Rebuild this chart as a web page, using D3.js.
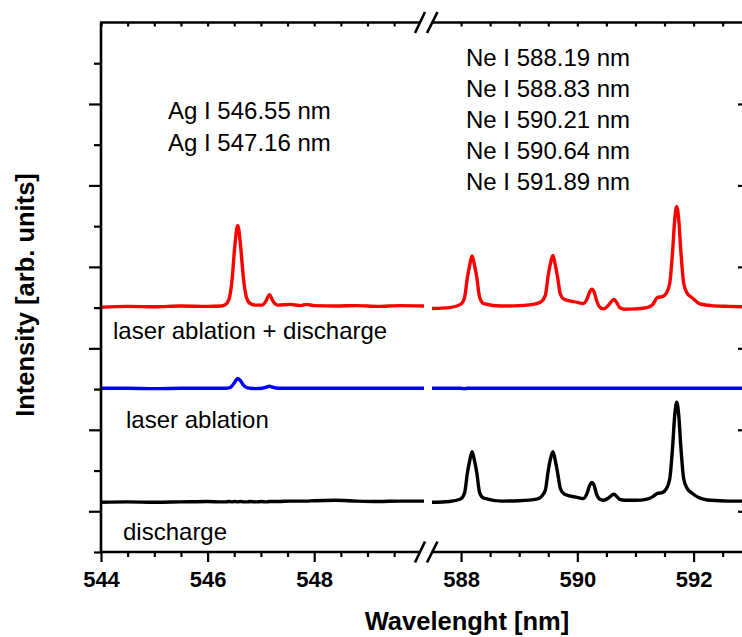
<!DOCTYPE html>
<html>
<head>
<meta charset="utf-8">
<script src="https://cdn.jsdelivr.net/npm/d3@7"></script>
<style>
  body { margin: 0; background: #fff; }
  svg { display: block; font-family: 'Liberation Sans', Arial, sans-serif; }
</style>
</head>
<body>
<div id="chart"></div>
<script>
// wavelength grids (nm) of the two panels
let leftNm = [544, 544.5, 545, 545.5, 546, 546.25, 546.33, 546.4, 546.46, 546.51, 546.565, 546.62, 546.67, 546.73, 546.8,
  546.9, 547.02, 547.09, 547.16, 547.23, 547.32, 547.55, 547.75, 547.85, 548.0, 548.4, 548.8, 549.2, 549.6, 550.06]
let rightNm = [587.5, 587.8, 587.99, 588.06, 588.11, 588.15, 588.19, 588.23, 588.27, 588.32, 588.39, 588.7,
  589.0, 589.3, 589.38, 589.45, 589.5, 589.54, 589.58, 589.62, 589.66, 589.71, 589.78,
  590.0, 590.1, 590.17, 590.21, 590.25, 590.29, 590.33, 590.38, 590.45, 590.53, 590.58, 590.63, 590.68, 590.73, 590.82,
  591.0, 591.2, 591.3, 591.38, 591.46, 591.53, 591.59, 591.64, 591.675, 591.71, 591.745, 591.78, 591.83, 591.89, 591.97,
  592.1, 592.3, 592.6, 592.85]

// intensities (arb. units, offset spectra)
let redLeft = [6.01, 6.03, 6.02, 6.04, 6.03, 6.04, 6.07, 6.2, 6.7, 7.5, 8.02, 7.5, 6.75, 6.25, 6.1,
  6.06, 6.06, 6.15, 6.32, 6.15, 6.06, 6.08, 6.05, 6.08, 6.05, 6.04, 6.05, 6.03, 6.05, 6.04]
let blueLeft = [4.02, 4.02, 4.01, 4.02, 4.02, 4.02, 4.02, 4.03, 4.08, 4.17, 4.26, 4.2, 4.1, 4.04, 4.02,
  4.01, 4.02, 4.04, 4.07, 4.04, 4.02, 4.02, 4.02, 4.02, 4.02, 4.02, 4.02, 4.02, 4.02, 4.02]
let blackLeft = [1.22, 1.23, 1.22, 1.23, 1.24, 1.23, 1.23, 1.24, 1.23, 1.24, 1.23, 1.24, 1.23, 1.23, 1.24,
  1.23, 1.24, 1.23, 1.24, 1.24, 1.24, 1.25, 1.25, 1.25, 1.26, 1.27, 1.25, 1.24, 1.25, 1.25]

let redRight = [5.98, 6.0, 6.08, 6.25, 6.75, 7.05, 7.27, 7.05, 6.75, 6.25, 6.1, 6.04,
  6.05, 6.1, 6.15, 6.3, 6.8, 7.1, 7.28, 7.05, 6.75, 6.32, 6.2,
  6.13, 6.1, 6.22, 6.38, 6.45, 6.38, 6.18, 6.02, 5.97, 6.05, 6.14, 6.2, 6.12, 6.0, 5.96,
  5.97, 6.0, 6.08, 6.25, 6.27, 6.35, 6.6, 7.4, 8.15, 8.48, 8.15, 7.4, 6.6, 6.35, 6.25,
  6.1, 6.05, 6.03, 6.02]
let blueRight = [4.02, 4.02, 4.02, 4.01, 4.02, 4.02, 4.02, 4.02, 4.02, 4.02, 4.02, 4.02,
  4.02, 4.02, 4.02, 4.02, 4.02, 4.02, 4.02, 4.02, 4.02, 4.02, 4.02,
  4.02, 4.02, 4.02, 4.02, 4.02, 4.02, 4.02, 4.02, 4.02, 4.02, 4.02, 4.02, 4.02, 4.02, 4.02,
  4.02, 4.02, 4.02, 4.02, 4.02, 4.02, 4.02, 4.02, 4.02, 4.02, 4.02, 4.02, 4.02, 4.02, 4.02,
  4.02, 4.02, 4.02, 4.02]
let blackRight = [1.22, 1.24, 1.3, 1.45, 1.95, 2.25, 2.46, 2.25, 1.95, 1.45, 1.32, 1.25,
  1.26, 1.3, 1.36, 1.52, 2.0, 2.3, 2.46, 2.25, 1.95, 1.55, 1.42,
  1.34, 1.31, 1.45, 1.63, 1.71, 1.63, 1.42, 1.3, 1.27, 1.32, 1.38, 1.42, 1.36, 1.29, 1.27,
  1.27, 1.3, 1.36, 1.44, 1.46, 1.55, 1.8, 2.6, 3.35, 3.68, 3.35, 2.6, 1.8, 1.56, 1.45,
  1.33, 1.27, 1.25, 1.25]

// tick labels and annotations
let leftMajor = [544, 546, 548]
let rightMajor = [588, 590, 592]
let agLines = ['Ag I 546.55 nm', 'Ag I 547.16 nm']
let neLines = ['Ne I 588.19 nm', 'Ne I 588.83 nm', 'Ne I 590.21 nm', 'Ne I 590.64 nm', 'Ne I 591.89 nm']
let seriesNames = ['laser ablation + discharge', 'laser ablation', 'discharge']

let width = 742
let height = 637
let yTop = 22.5
let yBottom = 552
let xL = d3.scaleLinear().domain([544, 550.06]).range([101, 424])
let xR = d3.scaleLinear().domain([587.5, 592.85]).range([432, 743])
let y = d3.scaleLinear().domain([0, 13]).range([yBottom, yTop])

let svg = d3.select('#chart')
  .append('svg')
  .attr('width', width)
  .attr('height', height)

// spectra
function drawLine (x, nm, vals, color) {
  let line = d3.line()
    .x(function (d, i) { return x(nm[i]) })
    .y(function (d) { return y(d) })
    .curve(d3.curveMonotoneX)
  svg.append('path')
    .datum(vals)
    .attr('d', line)
    .attr('fill', 'none')
    .attr('stroke', color)
    .attr('stroke-width', 3.4)
    .attr('stroke-linejoin', 'round')
}
drawLine(xL, leftNm, redLeft, '#ff0000')
drawLine(xR, rightNm, redRight, '#ff0000')
drawLine(xL, leftNm, blueLeft, '#0000ff')
drawLine(xR, rightNm, blueRight, '#0000ff')
drawLine(xL, leftNm, blackLeft, '#000')
drawLine(xR, rightNm, blackRight, '#000')

// minor ticks every 0.5 nm
let minorL = d3.range(544.5, 550, 0.5).filter(function (v) { return leftMajor.indexOf(v) < 0 })
let minorR = d3.range(588.5, 593, 0.5).filter(function (v) { return rightMajor.indexOf(v) < 0 })

function tickAxis (axis, gy) {
  let g = svg.append('g')
    .attr('transform', 'translate(0,' + gy + ')')
    .call(axis)
  g.select('.domain').remove()
  g.selectAll('line').attr('stroke', '#000').attr('stroke-width', 2.2)
  return g
}
// bottom
tickAxis(d3.axisBottom(xL).tickValues(leftMajor).tickSize(10).tickPadding(9).tickFormat(d3.format('d')), yBottom)
tickAxis(d3.axisBottom(xR).tickValues(rightMajor).tickSize(10).tickPadding(9).tickFormat(d3.format('d')), yBottom)
tickAxis(d3.axisBottom(xL).tickValues(minorL).tickSize(5).tickFormat(''), yBottom)
tickAxis(d3.axisBottom(xR).tickValues(minorR).tickSize(5).tickFormat(''), yBottom)
svg.selectAll('.tick text')
  .attr('font-size', '22px')
  .attr('font-weight', 'bold')
  .attr('font-family', "'Liberation Sans', Arial, sans-serif")
  .attr('fill', '#000')
// top, inward
tickAxis(d3.axisTop(xL).tickValues(leftMajor.concat(minorL)).tickSize(-4).tickFormat(''), yTop)
tickAxis(d3.axisTop(xR).tickValues(rightMajor.concat(minorR)).tickSize(-4).tickFormat(''), yTop)

// left axis: long ticks on odd units
let yVals = d3.range(0, 13)
let gl = svg.append('g').attr('transform', 'translate(101,0)')
  .call(d3.axisLeft(y).tickValues(yVals).tickSize(0).tickFormat(''))
gl.select('.domain').remove()
gl.selectAll('.tick line')
  .attr('x2', function (d) { return d % 2 ? -12 : -7 })
  .attr('stroke', '#000')
  .attr('stroke-width', 2.2)
// right axis (at the edge), inward major ticks
let gr = svg.append('g').attr('transform', 'translate(743,0)')
  .call(d3.axisRight(y).tickValues(yVals.filter(function (d) { return d % 2 })).tickSize(-5).tickFormat(''))
gr.select('.domain').remove()
gr.selectAll('.tick line').attr('stroke', '#000').attr('stroke-width', 2.2)

// axis lines with break
let axisStyle = function (sel) {
  sel.attr('stroke', '#000').attr('stroke-width', 2.6).attr('fill', 'none')
}
svg.append('line').attr('x1', 101).attr('x2', 101).attr('y1', yTop).attr('y2', yBottom).call(axisStyle)
;[yTop, yBottom].forEach(function (gy) {
  svg.append('line').attr('x1', 100).attr('x2', 420).attr('y1', gy).attr('y2', gy).call(axisStyle)
  svg.append('line').attr('x1', 432).attr('x2', 743).attr('y1', gy).attr('y2', gy).call(axisStyle)
  svg.append('line').attr('x1', 415).attr('y1', gy + 10.5).attr('x2', 425).attr('y2', gy - 10.5).call(axisStyle)
  svg.append('line').attr('x1', 427).attr('y1', gy + 10.5).attr('x2', 437.5).attr('y2', gy - 10.5).call(axisStyle)
})

// annotations
function label (txt, x, yy, size, bold) {
  return svg.append('text')
    .attr('x', x)
    .attr('y', yy)
    .attr('font-size', size + 'px')
    .attr('font-weight', bold ? 'bold' : 'normal')
    .attr('fill', '#000')
    .text(txt)
}
agLines.forEach(function (t, i) { label(t, 168, 119 + i * 32, 24) })
neLines.forEach(function (t, i) { label(t, 466, 66 + i * 31, 24) })
label(seriesNames[0], 113, 339, 24)
label(seriesNames[1], 126, 428, 24)
label(seriesNames[2], 123, 540, 24)

label('Wavelenght [nm]', 467, 630, 25.5, true).attr('text-anchor', 'middle')
label('Intensity [arb. units]', 0, 0, 25.5, true)
  .attr('text-anchor', 'middle')
  .attr('transform', 'translate(34,295) rotate(-90)')
</script>
</body>
</html>
